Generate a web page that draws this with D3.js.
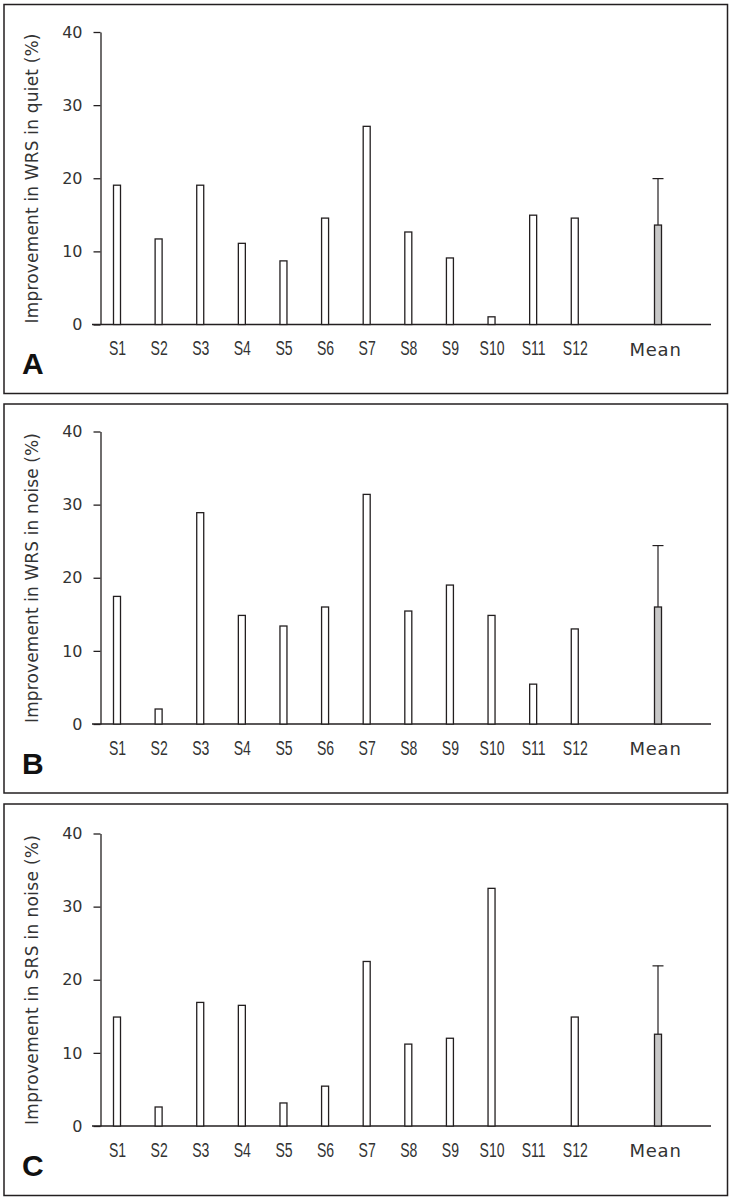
<!DOCTYPE html>
<html><head><meta charset="utf-8">
<script src="https://cdn.jsdelivr.net/npm/d3@7"></script>
<style>body{margin:0;background:#fff}svg{display:block}</style>
</head><body>
<svg id="chart" width="731" height="1199"></svg>
<script>
// ---- data ----
const subjects = ["S1","S2","S3","S4","S5","S6","S7","S8","S9","S10","S11","S12"];
const meanLabel = "Mean";
const wrsQuiet = [19.05, 11.7, 19.05, 11.1, 8.7, 14.55, 27.1, 12.65, 9.1, 1.05, 14.95, 14.55];
const wrsNoise = [17.45, 2.05, 28.9, 14.85, 13.4, 16.0, 31.4, 15.45, 19.0, 14.85, 5.45, 13.0];
const srsNoise = [14.9, 2.6, 16.9, 16.5, 3.15, 5.45, 22.5, 11.2, 12.0, 32.5, 0, 14.9];
const meanValues = [13.6, 16.0, 12.55];
const sdValues = [6.35, 8.4, 9.35];
const panelLetters = ["A", "B", "C"];
const yTitles = ["Improvement in WRS in quiet (%)", "Improvement in WRS in noise (%)", "Improvement in SRS in noise (%)"];
const yTicks = [0, 10, 20, 30, 40];
const series = [wrsQuiet, wrsNoise, srsNoise];

// ---- layout ----
const svg = d3.select("#chart");
const ink = "#231f20";
const panelOffsets = [0, 399.5, 801.5];
const frameTops = [4.5, 404, 804];
const frameBottoms = [393.5, 793, 1195.5];
const gapSlot = " ";
const slots = [...subjects, gapSlot, meanLabel];
const x = d3.scalePoint().domain(slots).range([117, 658]);
const barW = 7;

series.forEach((vals, i) => {
  svg.append("rect")
    .attr("x", 4).attr("y", frameTops[i])
    .attr("width", 723.5).attr("height", frameBottoms[i] - frameTops[i])
    .attr("fill", "none").attr("stroke", ink).attr("stroke-width", 1.5);

  const g = svg.append("g").attr("transform", `translate(0,${panelOffsets[i]})`);
  const y = d3.scaleLinear().domain([0, 40]).range([324.5, 32]);

  // y axis
  const yAx = g.append("g").attr("transform", "translate(100.5,0)")
    .call(d3.axisLeft(y).tickValues(yTicks).tickSize(7).tickPadding(11).tickSizeOuter(0));
  yAx.select(".domain").attr("stroke", ink).attr("stroke-width", 1.3);
  yAx.selectAll(".tick line").attr("stroke", ink).attr("stroke-width", 1.3);
  yAx.selectAll(".tick text").attr("font-family", "DejaVu Sans, sans-serif")
    .attr("font-size", 16).attr("fill", "#333");

  // x axis baseline
  const xAx = g.append("g").attr("transform", `translate(0,${y(0)})`)
    .call(d3.axisBottom(x).tickValues([...subjects, meanLabel]).tickSize(0).tickPadding(0).tickSizeOuter(0));
  xAx.select(".domain").remove();
  g.append("line").attr("x1", 92).attr("x2", 711).attr("y1", y(0)).attr("y2", y(0))
    .attr("stroke", ink).attr("stroke-width", 1.3);
  xAx.selectAll(".tick text")
    .attr("dy", null).attr("y", 31)
    .attr("fill", "#333")
    .each(function(d) {
      const t = d3.select(this);
      if (d === meanLabel) {
        t.attr("font-family", "DejaVu Sans, sans-serif").attr("font-size", 18)
         .attr("x", -3).attr("letter-spacing", 0.8);
      } else {
        t.attr("font-family", "Liberation Sans, Arial, sans-serif").attr("font-size", 19.5)
         .attr("transform", "scale(0.72,1)");
      }
    });

  // bars
  g.selectAll("rect.bar").data(vals).join("rect").attr("class", "bar")
    .attr("x", (d, j) => x(subjects[j]) - barW / 2)
    .attr("width", barW)
    .attr("y", d => y(d))
    .attr("height", d => y(0) - y(d))
    .attr("fill", "#fff").attr("stroke", ink).attr("stroke-width", 1.3);

  // mean bar with error bar
  const mx = x(meanLabel);
  const top = meanValues[i] + sdValues[i];
  g.append("line").attr("x1", mx).attr("x2", mx).attr("y1", y(meanValues[i])).attr("y2", y(top))
    .attr("stroke", ink).attr("stroke-width", 1.2);
  g.append("line").attr("x1", mx - 5.5).attr("x2", mx + 5.5).attr("y1", y(top)).attr("y2", y(top))
    .attr("stroke", ink).attr("stroke-width", 1.2);
  g.append("rect")
    .attr("x", mx - barW / 2).attr("width", barW)
    .attr("y", y(meanValues[i])).attr("height", y(0) - y(meanValues[i]))
    .attr("fill", "#c8c8c8").attr("stroke", ink).attr("stroke-width", 1.3);

  // y title
  g.append("text")
    .attr("transform", `translate(38,${(32 + 325) / 2}) rotate(-90)`)
    .attr("text-anchor", "middle")
    .attr("font-family", "DejaVu Sans, sans-serif").attr("font-size", 17)
    .attr("fill", "#333")
    .attr("textLength", 290).attr("lengthAdjust", "spacing")
    .text(yTitles[i]);

  // panel letter
  g.append("text").attr("x", 22).attr("y", 374)
    .attr("font-family", "Liberation Sans, Arial, sans-serif").attr("font-weight", "bold")
    .attr("font-size", 30).attr("fill", "#111")
    .text(panelLetters[i]);
});
</script>
</body></html>
